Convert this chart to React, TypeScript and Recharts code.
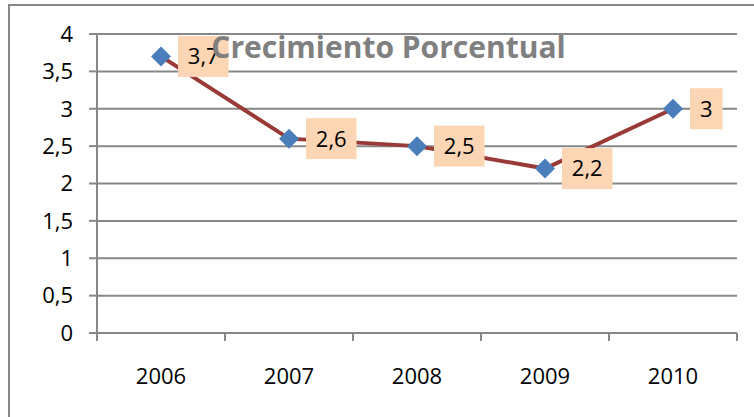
import { LineChart, Line, XAxis, YAxis, CartesianGrid, LabelList } from 'recharts';

const years = ['2006', '2007', '2008', '2009', '2010'];
const growth = [3.7, 2.6, 2.5, 2.2, 3];
const yTicks = [0, 0.5, 1, 1.5, 2, 2.5, 3, 3.5, 4];
const title = 'Crecimiento Porcentual';

const data = years.map((year, i) => ({ idx: i, year, value: growth[i] }));
// centres carry the year labels, half steps carry the tick marks
const xTicks = years.flatMap((_, i) => (i === 0 ? [-0.5, i] : [i - 0.5, i])).concat(years.length - 0.5);

const FONT = '"Open Sans", sans-serif';
const GRID = '#878787';
const comma = (v: number) => String(v).replace('.', ',');

function XTick(props: any) {
  const { x, y, payload } = props;
  const v = payload.value as number;
  if (Number.isInteger(v)) {
    return (
      <text x={x} y={y + 51} textAnchor="middle" fontSize={22} fontFamily={FONT} fill="#000">
        {years[v]}
      </text>
    );
  }
  return <line x1={x} x2={x} y1={y} y2={y + 8} stroke={GRID} strokeWidth={2} />;
}

function Diamond(props: any) {
  const { cx, cy } = props;
  if (cx == null || cy == null) return null;
  const r = 10;
  return (
    <path
      d={`M${cx},${cy - r}L${cx + r},${cy}L${cx},${cy + r}L${cx - r},${cy}Z`}
      fill="#4A7EBB"
    />
  );
}

function ValueLabel(props: any) {
  const { x, y, value } = props;
  const text = comma(value);
  const tw = text.split('').reduce((s: number, ch: string) => s + (ch === ',' ? 5.5 : 12.5), 0);
  const w = tw + 20;
  const h = 41;
  const left = x + 17;
  return (
    <g>
      <rect x={left} y={y - h / 2} width={w} height={h} fill="#FCD5B4" />
      <text x={left + w / 2} y={y} dy="0.36em" textAnchor="middle" fontSize={22} fontFamily={FONT} fill="#000">
        {text}
      </text>
    </g>
  );
}

export default function App() {
  return (
    <div style={{ position: 'absolute', left: 0, top: 0, width: 754, height: 417, overflow: 'hidden', background: '#fff' }}>
      <div
        style={{
          position: 'absolute',
          left: 8,
          top: 4,
          width: 800,
          height: 500,
          borderTop: `2px solid ${GRID}`,
          borderLeft: `2px solid ${GRID}`,
        }}
      />
      <div style={{ position: 'absolute', left: 0, top: 0 }}>
        <LineChart width={754} height={417} data={data} margin={{ top: 34, right: 17, bottom: 0, left: 0 }}>
          <CartesianGrid vertical={false} stroke={GRID} strokeWidth={2} />
          <XAxis
            type="number"
            dataKey="idx"
            domain={[-0.5, years.length - 0.5]}
            ticks={xTicks}
            interval={0}
            tick={<XTick />}
            tickLine={false}
            tickSize={0}
            tickMargin={0}
            height={84}
            axisLine={{ stroke: GRID, strokeWidth: 2 }}
          />
          <YAxis
            domain={[0, 4]}
            ticks={yTicks}
            interval={0}
            width={97}
            tickSize={8}
            tickMargin={16}
            tickFormatter={comma}
            tick={{ fontSize: 22, fontFamily: FONT, fill: '#000' }}
            tickLine={{ stroke: GRID, strokeWidth: 2 }}
            axisLine={{ stroke: GRID, strokeWidth: 2 }}
          />
          <Line
            dataKey="value"
            stroke="#993A37"
            strokeWidth={4}
            dot={<Diamond />}
            activeDot={false}
            isAnimationActive={false}
          >
            <LabelList dataKey="value" content={<ValueLabel />} />
          </Line>
        </LineChart>
      </div>
      <div
        style={{
          position: 'absolute',
          left: 180,
          top: 28,
          width: 417,
          fontFamily: FONT,
          fontWeight: 700,
          fontSize: 30,
          lineHeight: '38px',
          color: '#808080',
          whiteSpace: 'nowrap',
          textAlign: 'center',
        }}
      >
        {title}
      </div>
    </div>
  );
}
